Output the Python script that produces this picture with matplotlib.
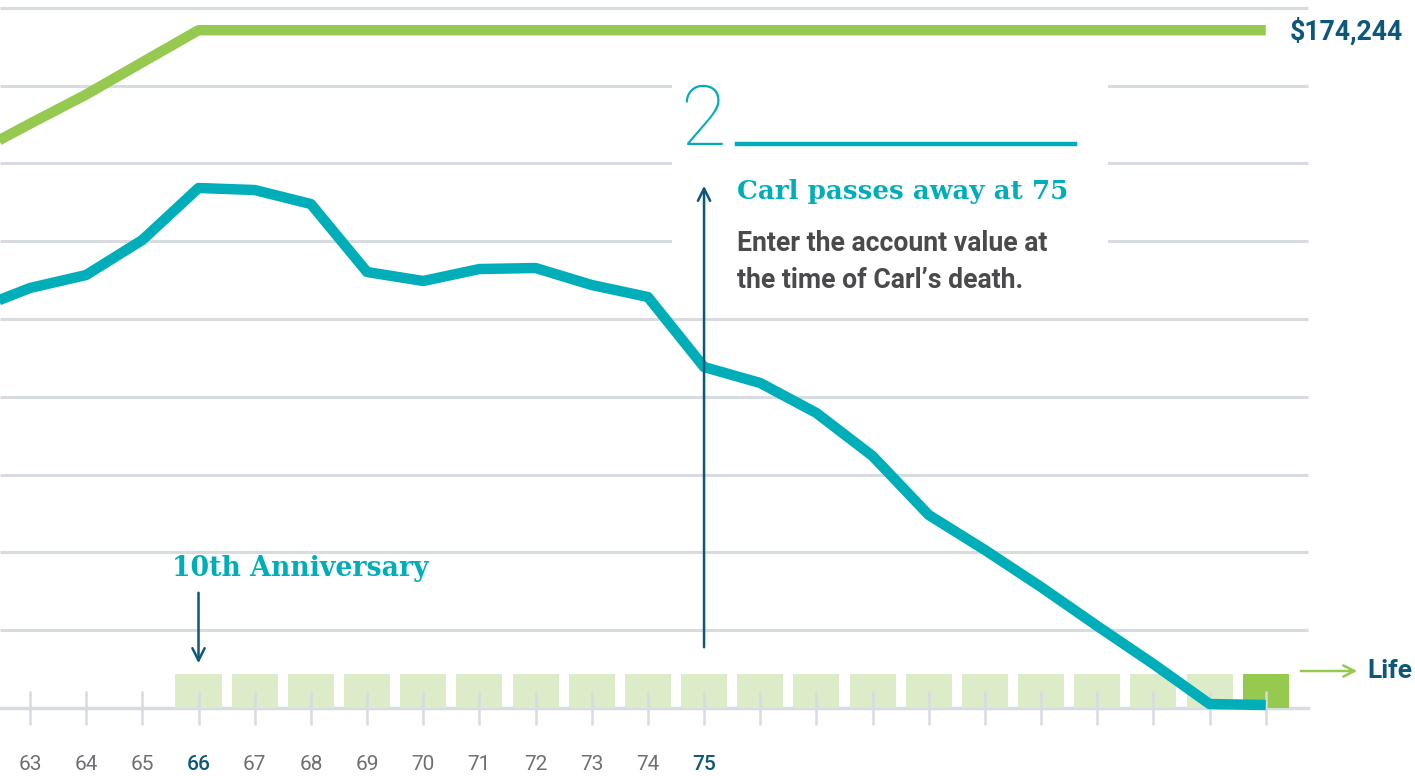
import matplotlib
matplotlib.use('Agg')
import matplotlib.pyplot as plt
from matplotlib.patches import Rectangle
import numpy as np

# ---- data (values in dollars, ages in years) ----
ages = list(range(62, 86))
account_value = [102300, 107970, 111310, 120310, 133680, 133160, 129560, 112080,
                 109770, 112850, 113110, 108740, 105660, 87660, 83550, 75840,
                 64780, 49620, 40620, 31100, 21080, 11310, 1030, 770]
death_benefit = [142500, 150200, 157700, 166000] + [174244] * 20
box_ages = list(range(66, 86))          # light boxes 66-84, final box at 85
tick_ages = list(range(63, 86))
tick_labels = [str(a) if a <= 75 else '' for a in tick_ages]
highlight_ages = [66, 75]
grid_values = [20000 * k for k in range(1, 10)]

TEAL = '#00aeb9'
GREEN = '#95c94f'
LIGHT_GREEN = '#dcebc8'
DARK_BLUE = '#0d5878'
GRID = '#d8dce0'
GRAY_TXT = '#6f7073'
DARK_TXT = '#4a4a4c'

W, H = 1415, 776
fig = plt.figure(figsize=(W / 100, H / 100), dpi=100)
ax = fig.add_axes([0, 0, 1, 1])

px_per_year = 56.17
x0 = 63 - 30 / px_per_year
x1 = 63 + (W - 30) / px_per_year
px_per_unit = 77.8 / 20000
ax.set_xlim(x0, x1)
ax.set_ylim(-(H - 708) / px_per_unit, 708 / px_per_unit)

def yval(py):
    # pixel row -> data value (for annotation placement)
    return (708 - py) / px_per_unit

grid_end = 85.75
ax.hlines(grid_values, x0, grid_end, color=GRID, lw=2.2, zorder=1)

# bottom axis as baseline
for s in ['top', 'right', 'left']:
    ax.spines[s].set_visible(False)
ax.spines['bottom'].set_position(('data', 0))
ax.spines['bottom'].set_color(GRID)
ax.spines['bottom'].set_linewidth(2.5)
ax.spines['bottom'].set_bounds(x0, grid_end)
ax.spines['bottom'].set_zorder(1)
ax.set_yticks([])
ax.set_xticks(tick_ages)
ax.set_xticklabels(tick_labels, fontfamily='Roboto', fontsize=15, color=GRAY_TXT)
ax.tick_params(axis='x', direction='inout', length=24, width=1.8, color=GRID, pad=22)
for lab, a in zip(ax.get_xticklabels(), tick_ages):
    if a in highlight_ages:
        lab.set_color(DARK_BLUE)
        lab.set_fontweight('medium')

# boxes
box_colors = [LIGHT_GREEN] * (len(box_ages) - 1) + [GREEN]
ax.bar(box_ages, [8700] * len(box_ages), width=0.82, bottom=0,
       color=box_colors, zorder=1.5)

# white backdrop for annotation
ax.add_patch(Rectangle((74.43, yval(300)), 82.19 - 74.43, yval(62) - yval(300),
                       facecolor='white', edgecolor='none', zorder=2))

# lines
ax.plot(ages, death_benefit, color=GREEN, lw=7.5, solid_capstyle='butt', zorder=3)
ax.plot(ages, account_value, color=TEAL, lw=7.5, solid_capstyle='butt', zorder=3)

# arrows
ax.annotate('', xy=(75, yval(183)), xytext=(75, yval(650)),
            arrowprops=dict(arrowstyle='->', color=DARK_BLUE, lw=1.8, mutation_scale=22), zorder=4)
ax.annotate('', xy=(66, yval(666)), xytext=(66, yval(590)),
            arrowprops=dict(arrowstyle='->', color=DARK_BLUE, lw=1.8, mutation_scale=22), zorder=4)

def fx(px):
    return px / W

def fy(py):
    return 1 - py / H

# texts
fig.text(fx(1290), fy(32), '$174,244', fontfamily='Roboto', fontweight='bold',
         fontsize=19.2, color=DARK_BLUE, va='center', ha='left')
fig.text(fx(680), fy(122), '2', fontfamily='Roboto', fontweight='light',
         fontsize=60, color=TEAL, va='center', ha='left')
fig.add_artist(plt.Line2D([fx(737), fx(1075)], [fy(144), fy(144)], color=TEAL, lw=3.2))
fig.text(fx(737), fy(192), 'Carl passes away at 75', fontfamily='DejaVu Serif',
         fontweight='bold', fontsize=18.8, color=TEAL, va='center', ha='left')
fig.text(fx(737), fy(262), 'Enter the account value at\nthe time of Carl\u2019s death.',
         fontfamily='Roboto', fontweight='bold', fontsize=19.2, color=DARK_TXT,
         va='center', ha='left', linespacing=1.5)
fig.text(fx(172), fy(569), '10th Anniversary', fontfamily='DejaVu Serif',
         fontweight='bold', fontsize=19.3, color=TEAL, va='center', ha='left')
fig.add_artist(matplotlib.patches.FancyArrowPatch((fx(1298), fy(671)), (fx(1360), fy(671)),
               transform=fig.transFigure, arrowstyle='->', color=GREEN, lw=1.8,
               mutation_scale=20))
fig.text(fx(1367), fy(671), 'Life', fontfamily='Roboto', fontweight='bold',
         fontsize=19, color=DARK_BLUE, va='center', ha='left')

fig.savefig('out.png', dpi=100)
